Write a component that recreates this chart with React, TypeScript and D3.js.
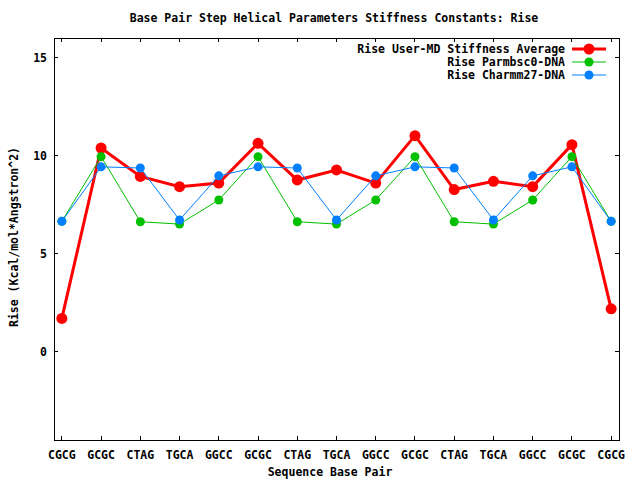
import * as d3 from "d3";

const categories = ["CGCG","GCGC","CTAG","TGCA","GGCC","GCGC","CTAG","TGCA","GGCC","GCGC","CTAG","TGCA","GGCC","GCGC","CGCG"];
const userMD = [1.70, 10.39, 8.94, 8.42, 8.60, 10.63, 8.76, 9.27, 8.60, 11.02, 8.27, 8.69, 8.42, 10.56, 2.19];
const parmbsc0 = [6.65, 9.95, 6.63, 6.51, 7.74, 9.95, 6.63, 6.51, 7.74, 9.95, 6.63, 6.51, 7.74, 9.95, 6.65];
const charmm27 = [6.65, 9.43, 9.37, 6.72, 8.97, 9.43, 9.37, 6.72, 8.97, 9.43, 9.37, 6.72, 8.97, 9.43, 6.65];
const yTicks = [0, 5, 10, 15];

const seriesNames = ["Rise User-MD Stiffness Average", "Rise Parmbsc0-DNA", "Rise Charmm27-DNA"];
const seriesColors = ["#ff0000", "#00c000", "#0080ff"];

const W = 640, H = 480;
const margin = { top: 38, right: 21, bottom: 40, left: 54 };
const FONT = "'DejaVu Sans Mono', monospace";

export default function App() {
  const x = d3.scaleLinear().domain([-0.2, categories.length - 1 + 0.2]).range([margin.left, W - margin.right]);
  const y = d3.scaleLinear().domain([-4.5, 16]).range([H - margin.bottom, margin.top]);
  const series = [userMD, parmbsc0, charmm27];
  const widths = [3, 1, 1];
  const radii = [5.5, 4.5, 4.5];

  const line = d3.line<number>().x((_, i) => x(i)).y(d => y(d));
  const x0 = margin.left, x1 = W - margin.right, y0 = margin.top, y1 = H - margin.bottom;

  return (
    <svg width={W} height={H} style={{ position: "absolute", left: 0, top: 0, background: "#fff" }}
      fontFamily={FONT} fontWeight="bold" fontSize="11.5px">
      <text x={334} y={22} textAnchor="middle">Base Pair Step Helical Parameters Stiffness Constants: Rise</text>

      {/* ticks */}
      <g stroke="#000" strokeWidth={1} shapeRendering="crispEdges">
        {categories.map((_, i) => (
          <g key={"xt" + i}>
            <line x1={x(i)} x2={x(i)} y1={y1} y2={y1 - 4} />
            <line x1={x(i)} x2={x(i)} y1={y0} y2={y0 + 4} />
          </g>
        ))}
        {yTicks.map(t => (
          <g key={"yt" + t}>
            <line x1={x0} x2={x0 + 4} y1={y(t)} y2={y(t)} />
            <line x1={x1} x2={x1 - 4} y1={y(t)} y2={y(t)} />
          </g>
        ))}
        <rect x={x0} y={y0} width={x1 - x0} height={y1 - y0} fill="none" />
      </g>

      {categories.map((c, i) => (
        <text key={"xl" + i} x={x(i)} y={459} textAnchor="middle">{c}</text>
      ))}
      {yTicks.map(t => (
        <text key={"yl" + t} x={47} y={y(t) + 4} textAnchor="end">{t}</text>
      ))}

      <text x={330} y={476} textAnchor="middle">Sequence Base Pair</text>
      <text transform="translate(18,237) rotate(-90)" textAnchor="middle">Rise (Kcal/mol*Angstron^2)</text>

      {/* series */}
      {series.map((s, k) => (
        <g key={"s" + k}>
          <path d={line(s) || ""} fill="none" stroke={seriesColors[k]} strokeWidth={widths[k]} />
          {s.map((v, i) => (
            <circle key={i} cx={x(i)} cy={y(v)} r={radii[k]} fill={seriesColors[k]} />
          ))}
        </g>
      ))}

      {/* legend */}
      {seriesNames.map((n, k) => {
        const ly = 49 + k * 13;
        return (
          <g key={"lg" + k}>
            <text x={565} y={ly + 4} textAnchor="end">{n}</text>
            <line x1={572} x2={606} y1={ly} y2={ly} stroke={seriesColors[k]} strokeWidth={widths[k]} />
            <circle cx={589} cy={ly} r={radii[k]} fill={seriesColors[k]} />
          </g>
        );
      })}
    </svg>
  );
}
